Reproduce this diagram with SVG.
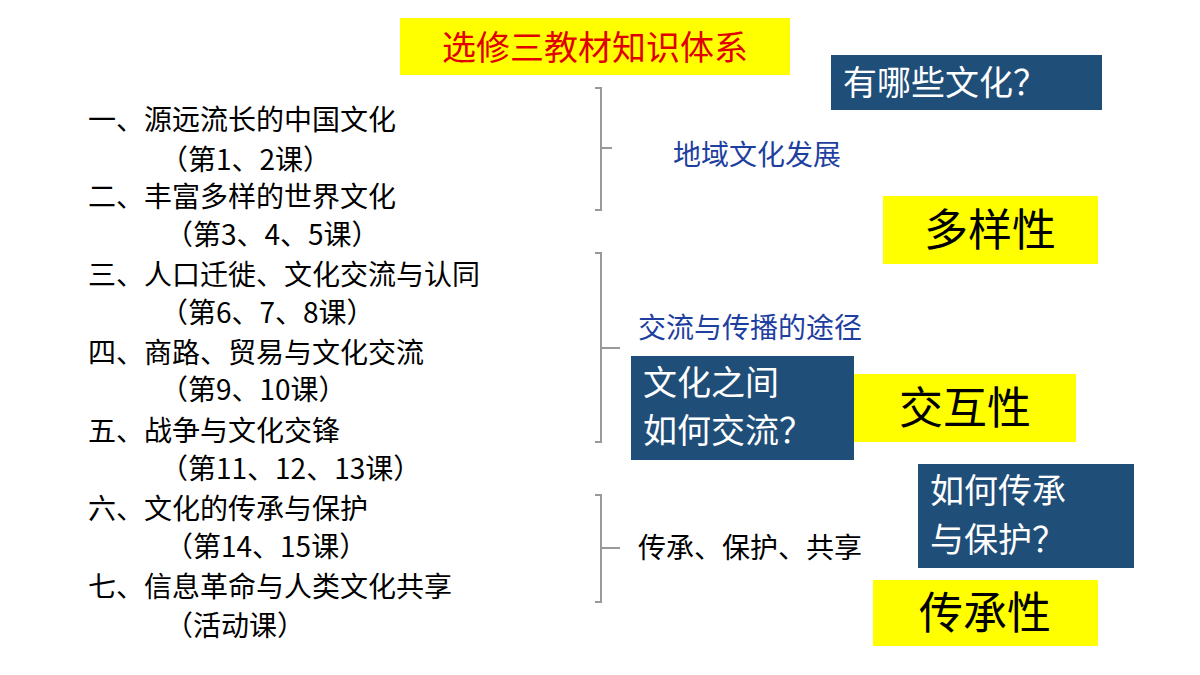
<svg xmlns="http://www.w3.org/2000/svg" width="1200" height="675" viewBox="0 0 1200 675">
<style>
text{font-family:"Noto Sans CJK SC","Noto Sans",sans-serif}
.l{font-size:28px;fill:#000}
.b{font-size:28px;fill:#1F3FA0}
.bx{fill:#1F4E79}
.w{font-size:34px;fill:#fff}
.y{fill:#FFFF00}
.k{font-size:44px;fill:#000;text-anchor:middle}
.br{fill:none;stroke:#999;stroke-width:2}
</style>
<rect width="1200" height="675" fill="#fff"/>
<g id="title"><rect x="400" y="18" width="390" height="57" class="y"/><text x="595" y="60" font-size="34" fill="#E00000" text-anchor="middle">选修三教材知识体系</text></g>
<g id="list">
<text class="l" x="88" y="130">一、源远流长的中国文化</text>
<text class="l" x="160" y="170">（第1、2课）</text>
<text class="l" x="88" y="207">二、丰富多样的世界文化</text>
<text class="l" x="165" y="245">（第3、4、5课）</text>
<text class="l" x="88" y="285">三、人口迁徙、文化交流与认同</text>
<text class="l" x="160" y="323">（第6、7、8课）</text>
<text class="l" x="88" y="363">四、商路、贸易与文化交流</text>
<text class="l" x="160" y="400">（第9、10课）</text>
<text class="l" x="88" y="441">五、战争与文化交锋</text>
<text class="l" x="160" y="479">（第11、12、13课）</text>
<text class="l" x="88" y="519">六、文化的传承与保护</text>
<text class="l" x="165" y="557">（第14、15课）</text>
<text class="l" x="88" y="597">七、信息革命与人类文化共享</text>
<text class="l" x="165" y="636">（活动课）</text>
</g>
<g id="connectors">
<path class="br" d="M595 88H601V210H595M601 148H612"/>
<path class="br" d="M595 253H601V442H595M601 348H620"/>
<path class="br" d="M595 495H601V602H595M601 548H620"/>
</g>
<g id="n1"><rect class="bx" x="831" y="55" width="271" height="55"/><text class="w" x="843" y="95">有哪些文化？</text></g>
<g id="n2"><text class="b" x="673" y="165">地域文化发展</text></g>
<g id="n3"><rect class="y" x="883" y="196" width="215" height="68"/><text class="k" x="990" y="246">多样性</text></g>
<g id="n4"><text class="b" x="638" y="338">交流与传播的途径</text></g>
<g id="n5"><rect class="bx" x="631" y="356" width="223" height="104"/><text class="w" x="643" y="395">文化之间</text><text class="w" x="643" y="443">如何交流？</text></g>
<g id="n6"><rect class="y" x="854" y="374" width="222" height="68"/><text class="k" x="965" y="424">交互性</text></g>
<g id="n7"><text class="l" x="638" y="558">传承、保护、共享</text></g>
<g id="n8"><rect class="bx" x="918" y="464" width="216" height="104"/><text class="w" x="930" y="503">如何传承</text><text class="w" x="930" y="552">与保护？</text></g>
<g id="n9"><rect class="y" x="873" y="580" width="225" height="66"/><text class="k" x="985" y="629">传承性</text></g>
</svg>
